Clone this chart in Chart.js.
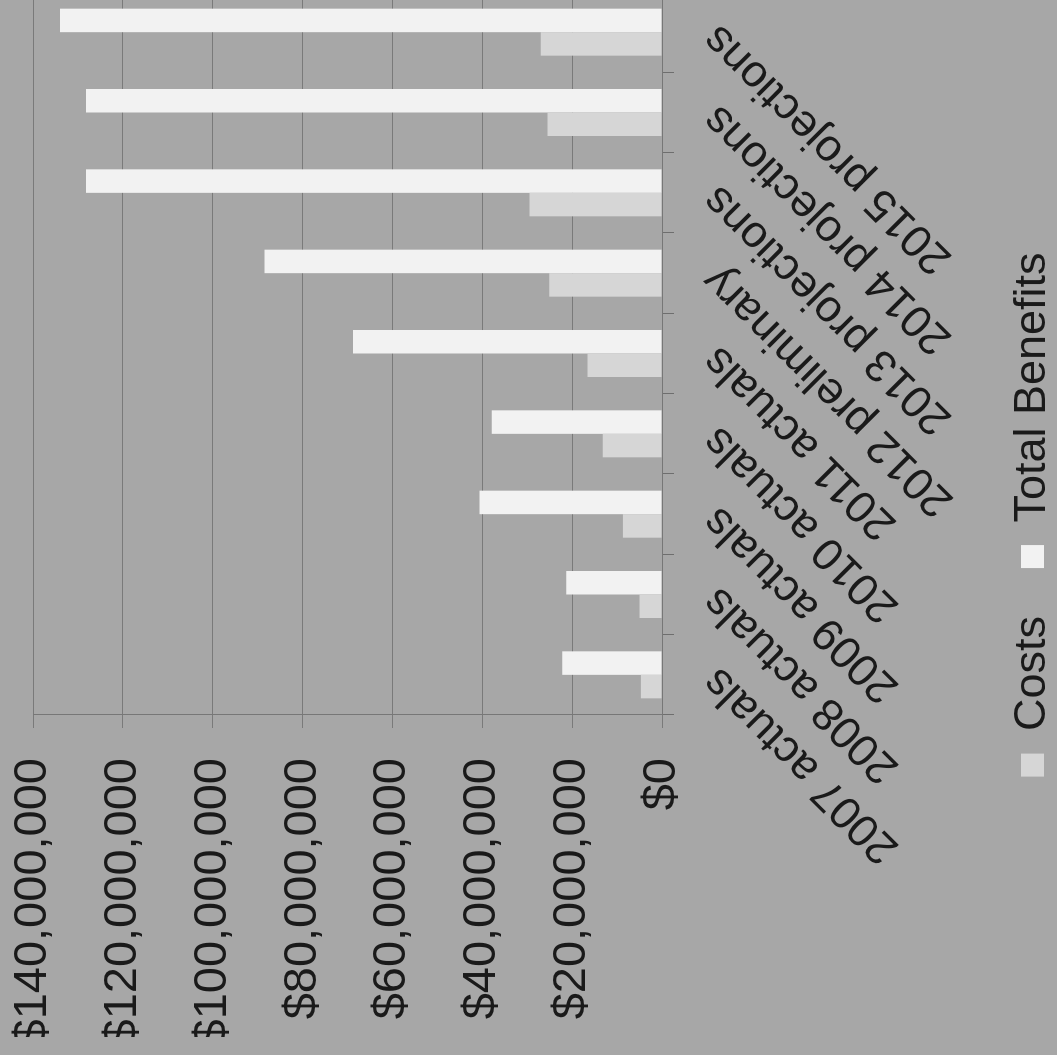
<!DOCTYPE html>
<html><head><meta charset="utf-8">
<script src="https://cdn.jsdelivr.net/npm/chart.js@4"></script>
<style>
html,body{margin:0;padding:0;background:#a7a7a7;overflow:hidden;width:1057px;height:1055px;}
#wrap{position:absolute;left:0;top:0;width:1080px;height:1065px;transform-origin:0 0;transform:translate(0px,1055px) rotate(-90deg);}
</style></head>
<body><div id="wrap"><canvas id="c" width="1080" height="1065"></canvas></div>
<script>
const categories = ["2007 actuals","2008 actuals","2009 actuals","2010 actuals","2011 actuals","2012 preliminary","2013 projections","2014 projections","2015 projections"];
const costs = [4700000, 5000000, 8700000, 13200000, 16600000, 25100000, 29500000, 25500000, 27000000];
const totalBenefits = [22200000, 21300000, 40600000, 37900000, 68800000, 88500000, 128200000, 128200000, 134000000];
const valueTicks = [0, 20000000, 40000000, 60000000, 80000000, 100000000, 120000000, 140000000];

const FONT = "'Liberation Sans', Arial, sans-serif";
new Chart(document.getElementById('c'), {
  type: 'bar',
  data: {
    labels: categories,
    datasets: [
      {label: 'Costs', data: costs, backgroundColor: '#d6d6d6', borderWidth: 0, categoryPercentage: 0.585, barPercentage: 1.0},
      {label: 'Total Benefits', data: totalBenefits, backgroundColor: '#f2f2f2', borderWidth: 0, categoryPercentage: 0.585, barPercentage: 1.0}
    ]
  },
  options: {
    responsive: false,
    animation: false,
    devicePixelRatio: 1,
    layout: {padding: {top: 33, right: 17, left: 18, bottom: 0}},
    plugins: {
      legend: {
        position: 'bottom',
        labels: {boxWidth: 23, boxHeight: 23, padding: 48, color: '#1a1a1a', font: {size: 45, family: FONT}}
      },
      tooltip: {enabled: false}
    },
    scales: {
      x: {
        type: 'category',
        offset: true,
        grid: {display: true, drawOnChartArea: false, drawTicks: true, tickLength: 12, color: '#6e6e6e', offset: true},
        border: {display: true, color: '#777777', width: 1},
        ticks: {minRotation: 45, maxRotation: 45, autoSkip: false, padding: 18, color: '#1a1a1a', font: {size: 45, family: FONT}},
        afterFit(s) { s.height = 300; }
      },
      y: {
        min: 0, max: 140000000,
        afterBuildTicks(s) { s.ticks = valueTicks.map(v => ({value: v})); },
        grid: {color: '#7a7a7a', lineWidth: 1, drawTicks: true, tickLength: 13},
        border: {display: true, color: '#777777', width: 1},
        ticks: {padding: 30, color: '#1a1a1a', font: {size: 47, family: FONT},
          callback: v => '$' + Number(v).toLocaleString('en-US')},
        afterFit(s) { s.width = 322; s.paddingTop = 0; s.paddingBottom = 0; }
      }
    }
  }
});
</script>
</body></html>
